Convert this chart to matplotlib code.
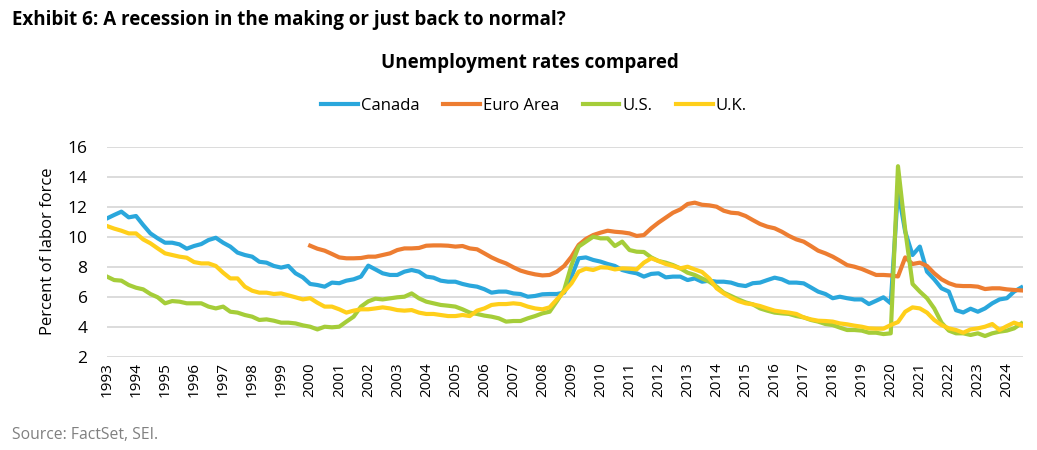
import numpy as np
import pandas as pd
import matplotlib
matplotlib.use("Agg")
import matplotlib.pyplot as plt
import matplotlib.dates as mdates

plt.rcParams['font.family'] = ['Open Sans', 'DejaVu Sans']

# quarterly readings (Jan/Apr/Jul/Oct), 1993 - mid 2024
dates = pd.date_range('1993-01-01', '2024-07-01', freq='QS')
euro_dates = pd.date_range('2000-01-01', '2024-07-01', freq='QS')

canada = [11.22, 11.45, 11.67, 11.29, 11.38, 10.78, 10.22, 9.89,
          9.6, 9.6, 9.49, 9.2, 9.38, 9.51, 9.78, 9.93,
          9.6, 9.34, 8.94, 8.78, 8.67, 8.33, 8.27, 8.05,
          7.94, 8.05, 7.56, 7.29, 6.85, 6.78, 6.67, 6.94,
          6.9, 7.07, 7.16, 7.34, 8.07, 7.82, 7.56, 7.45,
          7.45, 7.67, 7.78, 7.67, 7.34, 7.27, 7.07, 7.0,
          7.0, 6.85, 6.74, 6.67, 6.5, 6.27, 6.34, 6.34,
          6.22, 6.18, 6.0, 6.05, 6.16, 6.18, 6.18, 6.27,
          7.34, 8.56, 8.62, 8.45, 8.34, 8.18, 8.05, 7.78,
          7.65, 7.56, 7.34, 7.52, 7.56, 7.29, 7.34, 7.34,
          7.11, 7.22, 7.0, 7.07, 7.0, 7.0, 6.94, 6.78,
          6.71, 6.9, 6.94, 7.11, 7.27, 7.16, 6.94, 6.94,
          6.89, 6.62, 6.34, 6.18, 5.9, 6.0, 5.9, 5.82,
          5.82, 5.51, 5.73, 5.96, 5.56, 13.1, 10.33, 8.78,
          9.34, 7.67, 7.16, 6.56, 6.34, 5.1, 4.95, 5.2,
          5.0, 5.22, 5.56, 5.82, 5.9, 6.34, 6.62]

euro = [9.4, 9.2, 9.07, 8.85,
        8.62, 8.56, 8.56, 8.58, 8.67, 8.67, 8.78, 8.89,
        9.11, 9.22, 9.22, 9.25, 9.4, 9.42, 9.42, 9.4,
        9.34, 9.38, 9.22, 9.16, 8.89, 8.62, 8.4, 8.22,
        7.96, 7.74, 7.6, 7.49, 7.42, 7.45, 7.67, 8.05,
        8.67, 9.45, 9.85, 10.11, 10.27, 10.4, 10.33, 10.29,
        10.22, 10.05, 10.11, 10.56, 10.94, 11.27, 11.6, 11.82,
        12.18, 12.27, 12.13, 12.09, 12.0, 11.73, 11.6, 11.56,
        11.38, 11.11, 10.85, 10.67, 10.56, 10.33, 10.05, 9.82,
        9.67, 9.38, 9.07, 8.89, 8.67, 8.4, 8.11, 8.0,
        7.85, 7.65, 7.45, 7.45, 7.42, 7.35, 8.62, 8.18,
        8.27, 8.05, 7.56, 7.16, 6.9, 6.74, 6.71, 6.71,
        6.67, 6.51, 6.56, 6.56, 6.49, 6.45, 6.42]

us = [7.34, 7.11, 7.07, 6.78, 6.6, 6.49, 6.18, 5.96,
      5.56, 5.71, 5.67, 5.56, 5.56, 5.56, 5.34, 5.22,
      5.34, 5.0, 4.94, 4.78, 4.67, 4.45, 4.49, 4.4,
      4.27, 4.27, 4.22, 4.09, 4.0, 3.82, 4.0, 3.96,
      4.0, 4.34, 4.67, 5.34, 5.69, 5.87, 5.82, 5.89,
      5.96, 6.0, 6.22, 5.89, 5.67, 5.56, 5.45, 5.4,
      5.34, 5.16, 4.94, 4.85, 4.74, 4.67, 4.56, 4.34,
      4.38, 4.38, 4.56, 4.71, 4.89, 5.0, 5.7, 6.45,
      8.11, 9.34, 9.67, 10.0, 9.89, 9.89, 9.38, 9.67,
      9.11, 9.0, 8.98, 8.62, 8.38, 8.27, 8.11, 7.89,
      7.6, 7.45, 7.22, 7.0, 6.67, 6.27, 6.05, 5.82,
      5.62, 5.49, 5.22, 5.07, 4.94, 4.89, 4.85, 4.71,
      4.62, 4.45, 4.34, 4.18, 4.11, 3.94, 3.78, 3.78,
      3.74, 3.6, 3.6, 3.51, 3.56, 14.7, 10.45, 6.85,
      6.34, 5.9, 5.22, 4.27, 3.74, 3.56, 3.56, 3.45,
      3.56, 3.38, 3.56, 3.67, 3.74, 3.89, 4.22]

uk = [10.71, 10.54, 10.4, 10.22, 10.22, 9.82, 9.56, 9.22,
      8.89, 8.78, 8.67, 8.6, 8.31, 8.22, 8.22, 8.05,
      7.6, 7.22, 7.22, 6.67, 6.4, 6.27, 6.27, 6.18,
      6.22, 6.09, 5.96, 5.82, 5.9, 5.6, 5.34, 5.34,
      5.16, 4.94, 5.07, 5.16, 5.16, 5.22, 5.29, 5.22,
      5.11, 5.07, 5.11, 4.94, 4.85, 4.85, 4.78, 4.71,
      4.71, 4.78, 4.71, 5.07, 5.22, 5.45, 5.51, 5.51,
      5.56, 5.51, 5.34, 5.22, 5.16, 5.29, 5.82, 6.34,
      6.89, 7.67, 7.87, 7.78, 7.96, 7.94, 7.82, 7.89,
      7.87, 7.82, 8.27, 8.56, 8.38, 8.18, 8.05, 7.89,
      8.0, 7.82, 7.65, 7.22, 6.56, 6.22, 5.94, 5.71,
      5.56, 5.49, 5.38, 5.22, 5.07, 5.0, 4.94, 4.85,
      4.62, 4.49, 4.4, 4.38, 4.34, 4.22, 4.16, 4.07,
      4.0, 3.89, 3.87, 3.87, 4.11, 4.31, 5.0, 5.29,
      5.22, 4.94, 4.45, 4.11, 3.89, 3.78, 3.6, 3.82,
      3.89, 4.0, 4.18, 3.78, 4.04, 4.27, 4.1]

years = list(range(1993, 2025))

fig = plt.figure(figsize=(10.37, 4.5), dpi=100)
ax = fig.add_axes([0.1032, 0.2073, 0.8833, 0.4667])

lw = 3.0
ax.plot(dates, canada, color='#2AA7DC', lw=lw, label='Canada')
ax.plot(euro_dates, euro, color='#ED7D31', lw=lw, label='Euro Area')
ax.plot(dates, us, color='#A5CD39', lw=lw, label='U.S.')
ax.plot(dates, uk, color='#FFCF1A', lw=lw, label='U.K.')

ax.set_ylim(2, 16)
ax.set_yticks(range(2, 17, 2))
ax.set_xlim(pd.Timestamp('1993-01-01'), pd.Timestamp('2024-07-22'))
ax.set_xticks([pd.Timestamp(f'{y}-01-01') for y in years])
ax.xaxis.set_major_formatter(mdates.DateFormatter('%Y'))
plt.setp(ax.get_xticklabels(), rotation=90, ha='center', va='top')

ax.grid(axis='y', color='#D9D9D9', lw=1.3)
ax.set_axisbelow(True)
for s in ax.spines.values():
    s.set_visible(False)
ax.tick_params(axis='both', length=0, colors='black')
ax.tick_params(axis='y', labelsize=12.5, pad=14)
ax.tick_params(axis='x', labelsize=11, pad=4)
ax.set_ylabel('Percent of labor force', fontsize=12, labelpad=8)

fig.text(0.0116, 0.956, 'Exhibit 6: A recession in the making or just back to normal?',
         fontsize=13.5, fontweight='bold', ha='left', va='center')
fig.text(0.511, 0.86, 'Unemployment rates compared', fontsize=13.5,
         fontweight='bold', ha='center', va='center')
fig.legend(loc='center', bbox_to_anchor=(0.515, 0.764), ncol=4, frameon=False,
           fontsize=12, handlelength=2.2, handletextpad=0.2, columnspacing=1.4)
fig.text(0.0116, 0.033, 'Source: FactSet, SEI.', fontsize=11.3, color='#808080',
         ha='left', va='center')

fig.savefig('out.png', dpi=100)
